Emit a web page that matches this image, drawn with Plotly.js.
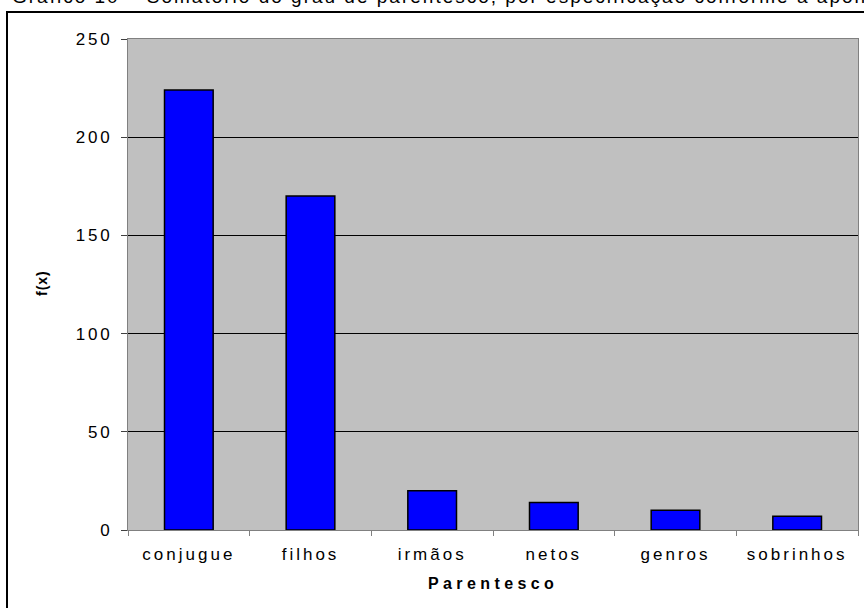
<!DOCTYPE html>
<html>
<head>
<meta charset="utf-8">
<script src="https://cdn.plot.ly/plotly-3.0.1.min.js"></script>
<style>
html,body{margin:0;padding:0;background:#fff;}
#chart{width:864px;height:608px;}
#chart .xtick text{letter-spacing:3px;}
#chart .ytick text{letter-spacing:2.8px;}
</style>
</head>
<body>
<div id="chart"></div>
<script>
const categories = ["conjugue", "filhos", "irmãos", "netos", "genros", "sobrinhos"];
const values = [224, 170, 20, 14, 10, 7];
const yTicks = [0, 50, 100, 150, 200, 250];
const titleText = "Gráfico 10 – Somatório do grau de parentesco, por especificação conforme a apontamento";
const xTitle = "Parentesco";
const yTitle = "f(x)";

const L = 128, R = 6, T = 39, B = 78, W = 864, H = 608;
const pw = W - L - R, ph = H - T - B;
const px = v => (v - L) / pw;
const py = v => (H - B - v) / ph;

const trace = {
  type: "bar",
  x: categories,
  y: values,
  marker: {color: "#0000ff", line: {color: "#000000", width: 1.5}},
  hoverinfo: "x+y"
};

const layout = {
  width: W, height: H,
  margin: {l: L, r: R, t: T, b: B, pad: 0},
  paper_bgcolor: "#ffffff",
  plot_bgcolor: "#c0c0c0",
  bargap: 0.6,
  showlegend: false,
  font: {family: "Liberation Sans, Arial, sans-serif", color: "#000", size: 15},
  xaxis: {
    type: "category",
    tickson: "boundaries",
    ticks: "outside", ticklen: 5, tickcolor: "#808080", tickwidth: 1,
    showline: true, linecolor: "#808080", linewidth: 1, mirror: true,
    showgrid: false, zeroline: false,
    tickfont: {size: 17},
    ticklabelstandoff: 9,
    automargin: false
  },
  yaxis: {
    range: [0, 250],
    tickvals: yTicks,
    ticks: "outside", ticklen: 6, tickcolor: "#404040", tickwidth: 1,
    showline: true, linecolor: "#808080", linewidth: 1, mirror: true,
    showgrid: true, gridcolor: "#000000", gridwidth: 1,
    zeroline: false,
    tickfont: {size: 17},
    ticklabelstandoff: 5,
    automargin: false
  },
  shapes: [{
    type: "rect", xref: "paper", yref: "paper",
    x0: px(7), x1: px(870), y0: py(614), y1: py(12),
    line: {color: "#000", width: 2}, fillcolor: "rgba(0,0,0,0)", layer: "below"
  }],
  annotations: [
    {
      text: titleText, xref: "paper", yref: "paper",
      x: px(0), y: py(2), xanchor: "left", yanchor: "middle",
      showarrow: false, font: {size: 19, color: "#000"}
    },
    {
      text: "<b>" + xTitle + "</b>", xref: "paper", yref: "paper",
      x: 0.5, y: py(583), xanchor: "center", yanchor: "middle",
      showarrow: false, font: {size: 16, color: "#000"}
    },
    {
      text: "<b>" + yTitle + "</b>", xref: "paper", yref: "paper",
      x: px(42), y: py(283), xanchor: "center", yanchor: "middle",
      textangle: -90, showarrow: false, font: {size: 14, color: "#000"}
    }
  ]
};

Plotly.newPlot("chart", [trace], layout, {displayModeBar: false, staticPlot: true}).then(function () {
  const anns = document.querySelectorAll("#chart .annotation");
  const svgRect = document.querySelector("#chart .main-svg").getBoundingClientRect();
  if (anns[0]) {
    const t = anns[0].querySelector("text");
    t.style.letterSpacing = "2px";
    const r = t.getBoundingClientRect();
    const dx = 12 - (r.left - svgRect.left);
    const dy = 7 - (r.bottom - svgRect.top);
    t.style.transform = "translate(" + dx + "px," + dy + "px)";
  }
  if (anns[1]) anns[1].querySelector("text").style.letterSpacing = "4.4px";
  if (anns[2]) anns[2].querySelector("text").style.letterSpacing = "1px";
});
</script>
</body>
</html>
